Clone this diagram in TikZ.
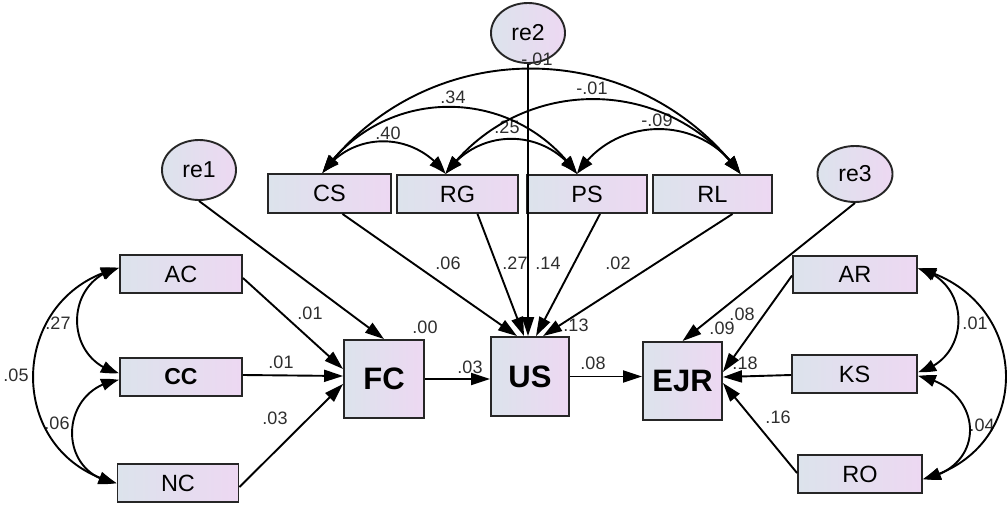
\documentclass[tikz,border=0pt]{standalone}
\usepackage{fontspec}
\setmainfont{Liberation Sans}
\usetikzlibrary{arrows.meta,shapes.geometric,calc,bending}
\definecolor{fillL}{HTML}{DCE3EC}
\definecolor{fillR}{HTML}{EDD8F2}
\definecolor{edgec}{HTML}{262626}
\definecolor{lblc}{HTML}{2E2E2E}
\begin{document}
\begin{tikzpicture}[x=1pt,y=-1pt,
  obs/.style={rectangle, draw=edgec, line width=1.9pt, left color=fillL, right color=fillR, inner sep=0pt, font=\fontsize{23.5}{26}\selectfont},
  big/.style={obs, font=\fontsize{31}{34}\selectfont\bfseries},
  errc/.style={ellipse, draw=edgec, line width=1.9pt, left color=fillL, right color=fillR, inner sep=0pt, font=\fontsize{23}{26}\selectfont},
  conn/.style={draw=black, line width=1.9pt, -{Triangle[length=19pt,width=12pt]}},
  cov/.style={draw=black, line width=1.9pt, {Triangle[length=18pt,width=12pt,bend]}-{Triangle[length=18pt,width=12pt,bend]}},
  lbl/.style={font=\fontsize{18}{20}\selectfont, text=lblc, inner sep=0pt}]
\useasboundingbox[fill=white] (0,0) rectangle (1007,504);

% observed variables
\node[obs, minimum width=122pt, minimum height=38pt] (AC) at (181,274) {AC};
\node[obs, minimum width=122pt, minimum height=38pt, font=\fontsize{23}{26}\selectfont\bfseries] (CC) at (181,377) {CC};
\node[obs, minimum width=121pt, minimum height=38pt] (NC) at (178,483) {NC};
\node[big, minimum width=80pt, minimum height=78pt] (FC) at (384,379) {FC};
\node[big, minimum width=78pt, minimum height=79pt] (US) at (530,376.5) {US};
\node[big, minimum width=79pt, minimum height=78pt] (EJR) at (682.5,381) {EJR};
\node[obs, minimum width=124pt, minimum height=37pt] (AR) at (855,274.5) {AR};
\node[obs, minimum width=125pt, minimum height=38pt] (KS) at (854.5,374) {KS};
\node[obs, minimum width=124pt, minimum height=38pt] (RO) at (860,474) {RO};
\node[obs, minimum width=123pt, minimum height=39pt] (CS) at (329.5,193.5) {CS};
\node[obs, minimum width=121pt, minimum height=38pt] (RG) at (457.5,194) {RG};
\node[obs, minimum width=120pt, minimum height=38pt] (PS) at (587,194) {PS};
\node[obs, minimum width=119pt, minimum height=38pt] (RL) at (712.5,194) {RL};
% error terms
\node[errc, minimum width=74pt, minimum height=60pt] (re1) at (199,170) {re1};
\node[errc, minimum width=74pt, minimum height=60pt] (re2) at (528,33) {re2};
\node[errc, minimum width=75pt, minimum height=56pt] (re3) at (855,174) {re3};

% labels
\node[lbl] (l1) at (310,313) {.01};
\node[lbl] (l2) at (281,362) {.01};
\node[lbl] (l3) at (275,418) {.03};
\node[lbl] (l4) at (425,327) {.00};
\node[lbl] (l5) at (470,367) {.03};
\node[lbl] (l6) at (593,363) {.08};
\node[lbl] (l7) at (448,263) {.06};
\node[lbl] (l8) at (515,263) {.27};
\node[lbl] (l9) at (548,263) {.14};
\node[lbl] (l10) at (618,263) {.02};
\node[lbl] (l11) at (576,325) {.13};
\node[lbl] (l12) at (722,328) {.09};
\node[lbl] (l13) at (742,314) {.08};
\node[lbl] (l14) at (745,363) {.18};
\node[lbl] (l15) at (778,417) {.16};
\node[lbl] (l16) at (58,323) {.27};
\node[lbl] (l17) at (16,375) {.05};
\node[lbl] (l18) at (57,423) {.06};
\node[lbl] (l19) at (975,323) {.01};
\node[lbl] (l20) at (982,425) {.04};
\node[lbl] (l21) at (537,59) {-.01};
\node[lbl] (l22) at (453,97) {.34};
\node[lbl] (l23) at (592,88) {-.01};
\node[lbl] (l24) at (388,133) {.40};
\node[lbl] (l25) at (507,127) {.25};
\node[lbl] (l26) at (657,120) {-.09};

% paths into FC
\draw[conn] (re1.south) -- (FC.north);
\draw[conn] ($(AC.east)+(0,4)$) -- ($(FC.west)+(0,-10)$);
\draw[conn] ($(CC.east)+(0,-2)$) -- ($(FC.west)+(0,-3)$);
\draw[conn] ($(NC.east)+(0,4)$) -- ($(FC.west)+(0,5)$);
% chain
\draw[conn] (FC.east) -- (FC.east -| US.west);
\draw[conn] (US.east) -- (US.east -| EJR.west);
% paths into US
\draw[conn] ($(CS.south)+(13,0)$) -- ($(US.north)+(-13,0)$);
\draw[conn] ($(RG.south)+(20,0)$) -- ($(US.north)+(-6,0)$);
\draw[conn] (re2.south) -- (re2.south |- US.north);
\draw[conn] ($(PS.south)+(13,0)$) -- ($(US.north)+(6,0)$);
\draw[conn] ($(RL.south)+(20,0)$) -- ($(US.north)+(13,0)$);
% paths into EJR
\draw[conn] (re3.south) -- (EJR.north);
\draw[conn] ($(AR.west)+(0,1)$) -- ($(EJR.east)+(0,-9)$);
\draw[conn] ($(KS.west)+(0,1)$) -- ($(EJR.east)+(0,-4)$);
\draw[conn] ($(RO.west)+(0,-1)$) -- ($(EJR.east)+(0,2)$);

% covariances left
\draw[cov] ($(AC.west)+(0,-6)$) .. controls +(-56,12) and +(-56,-12) .. ($(CC.west)+(0,-4)$);
\draw[cov] ($(CC.west)+(0,3)$) .. controls +(-61,8) and +(-61,-8) .. (NC.west);
\draw[cov] ($(AC.west)+(0,-6)$) .. controls +(-113,27) and +(-113,-27) .. (NC.west);
% covariances right
\draw[cov] ($(AR.east)+(0,-6)$) .. controls +(54,13) and +(54,-13) .. ($(KS.east)+(0,-2)$);
\draw[cov] ($(KS.east)+(0,2)$) .. controls +(66,12) and +(66,-12) .. ($(RO.east)+(0,5)$);
\draw[cov] ($(AR.east)+(0,-6)$) .. controls +(114,29) and +(114,-29) .. ($(RO.east)+(0,5)$);
% covariances top
\draw[cov] ($(CS.north)+(-7,0)$) .. controls +(104,-140) and +(-104,-140) .. ($(RL.north)+(28,0)$);
\draw[cov] ($(CS.north)+(-7,0)$) .. controls +(62,-89) and +(-62,-89) .. ($(PS.north)+(-10,0)$);
\draw[cov] ($(RG.north)+(-12,0)$) .. controls +(74,-100) and +(-74,-100) .. ($(RL.north)+(28,0)$);
\draw[cov] ($(CS.north)+(-7,0)$) .. controls +(30,-43) and +(-30,-43) .. ($(RG.north)+(-12,0)$);
\draw[cov] ($(RG.north)+(-12,0)$) .. controls +(32,-47) and +(-32,-47) .. ($(PS.north)+(-10,0)$);
\draw[cov] ($(PS.north)+(-10,0)$) .. controls +(38,-60) and +(-38,-60) .. ($(RL.north)+(28,0)$);
\end{tikzpicture}
\end{document}
